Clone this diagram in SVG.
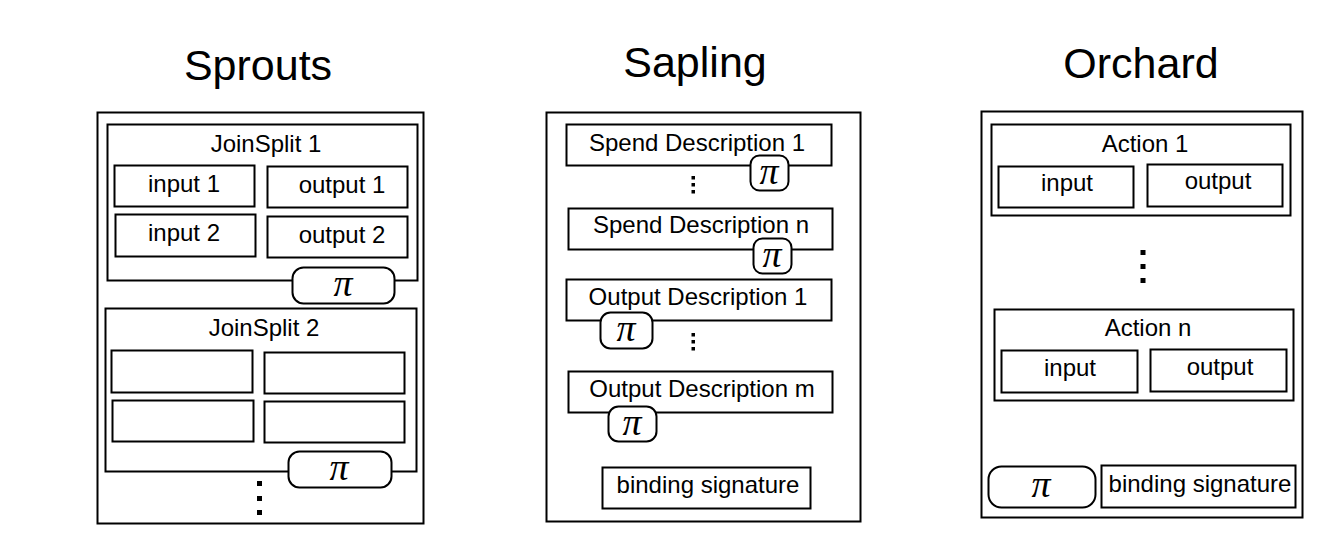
<svg xmlns="http://www.w3.org/2000/svg" width="1323" height="555" viewBox="0 0 1323 555">
<style>
.box{fill:#fff;stroke:#000;stroke-width:2}
.pi{fill:#fff;stroke:#000;stroke-width:2}
.t{font-family:"Liberation Sans",Arial,sans-serif;font-size:24px;fill:#000;text-anchor:middle}
.title{font-family:"Liberation Sans",Arial,sans-serif;font-size:43px;fill:#000;text-anchor:middle}
.p{font-family:"Liberation Serif","Times New Roman",serif;font-style:italic;font-size:38px;fill:#000;text-anchor:middle}
.dot{fill:#000}
</style>
<rect width="1323" height="555" fill="#fff"/>
<g id="connectors"></g>
<g id="sprouts">
<text class="title" x="258" y="80">Sprouts</text>
<rect class="box" x="97.5" y="112.5" width="326" height="411"/>
<g id="joinsplit1">
<rect class="box" x="107.5" y="124.5" width="310" height="156"/>
<text class="t" x="266" y="152">JoinSplit 1</text>
<rect class="box" x="114.5" y="165.5" width="140" height="41"/>
<text class="t" x="184" y="192">input 1</text>
<rect class="box" x="267.5" y="166.5" width="140" height="41"/>
<text class="t" x="342" y="193">output 1</text>
<rect class="box" x="115.5" y="214.5" width="140" height="42"/>
<text class="t" x="184" y="241">input 2</text>
<rect class="box" x="267.5" y="216.5" width="140" height="41"/>
<text class="t" x="342" y="243">output 2</text>
<rect class="pi" x="292.5" y="267.5" width="102" height="36" rx="11"/>
<text class="p" x="343" y="296">π</text>
</g>
<g id="joinsplit2">
<rect class="box" x="105.5" y="308.5" width="311" height="163"/>
<text class="t" x="264" y="336">JoinSplit 2</text>
<rect class="box" x="111.5" y="350.5" width="141" height="42"/>
<rect class="box" x="264.5" y="352.5" width="140" height="41"/>
<rect class="box" x="112.5" y="400.5" width="141" height="41"/>
<rect class="box" x="264.5" y="401.5" width="140" height="41"/>
<rect class="pi" x="288.5" y="451.5" width="103" height="36" rx="11"/>
<text class="p" x="339" y="480">π</text>
</g>
<rect class="dot" x="257" y="481" width="5" height="5"/>
<rect class="dot" x="257" y="496" width="5" height="5"/>
<rect class="dot" x="257" y="510" width="5" height="5"/>
</g>
<g id="sapling">
<text class="title" x="695" y="77">Sapling</text>
<rect class="box" x="546.5" y="112.5" width="314" height="409"/>
<g id="spend1">
<rect class="box" x="566.5" y="124.5" width="265" height="41"/>
<text class="t" x="697" y="151">Spend Description 1</text>
<rect class="pi" x="750.5" y="155.5" width="38" height="35" rx="9"/>
<text class="p" x="769" y="184">π</text>
</g>
<rect class="dot" x="691.5" y="176" width="3.5" height="3.5"/>
<rect class="dot" x="691.5" y="183" width="3.5" height="3.5"/>
<rect class="dot" x="691.5" y="190" width="3.5" height="3.5"/>
<g id="spendn">
<rect class="box" x="568.5" y="208.5" width="264" height="41"/>
<text class="t" x="701" y="233">Spend Description n</text>
<rect class="pi" x="753.5" y="238.5" width="38" height="35" rx="9"/>
<text class="p" x="772" y="267">π</text>
</g>
<g id="output1">
<rect class="box" x="566.5" y="279.5" width="265" height="41"/>
<text class="t" x="698" y="305">Output Description 1</text>
<rect class="pi" x="600.5" y="312.5" width="52" height="36" rx="10"/>
<text class="p" x="626" y="341">π</text>
</g>
<rect class="dot" x="691.5" y="333" width="3.5" height="3.5"/>
<rect class="dot" x="691.5" y="340" width="3.5" height="3.5"/>
<rect class="dot" x="691.5" y="347" width="3.5" height="3.5"/>
<g id="outputm">
<rect class="box" x="568.5" y="371.5" width="264" height="41"/>
<text class="t" x="702" y="397">Output Description m</text>
<rect class="pi" x="608.5" y="406.5" width="48" height="35" rx="10"/>
<text class="p" x="632" y="435">π</text>
</g>
<g id="sapling-binding">
<rect class="box" x="602.5" y="467.5" width="208" height="41"/>
<text class="t" x="708" y="493">binding signature</text>
</g>
</g>
<g id="orchard">
<text class="title" x="1141" y="78">Orchard</text>
<rect class="box" x="981.5" y="111.5" width="321" height="406"/>
<g id="action1">
<rect class="box" x="991.5" y="124.5" width="299" height="91"/>
<text class="t" x="1145" y="152">Action 1</text>
<rect class="box" x="998.5" y="166.5" width="135" height="41"/>
<text class="t" x="1067" y="191">input</text>
<rect class="box" x="1147.5" y="164.5" width="135" height="42"/>
<text class="t" x="1218" y="189">output</text>
</g>
<rect class="dot" x="1140.5" y="250" width="5" height="5"/>
<rect class="dot" x="1140.5" y="264" width="5" height="5"/>
<rect class="dot" x="1140.5" y="278" width="5" height="5"/>
<g id="actionn">
<rect class="box" x="994.5" y="309.5" width="299" height="91"/>
<text class="t" x="1148" y="336">Action n</text>
<rect class="box" x="1001.5" y="350.5" width="136" height="42"/>
<text class="t" x="1070" y="376">input</text>
<rect class="box" x="1150.5" y="349.5" width="136" height="42"/>
<text class="t" x="1220" y="375">output</text>
</g>
<g id="orchard-pi">
<rect class="pi" x="988.5" y="466.5" width="107" height="41" rx="13"/>
<text class="p" x="1041" y="497">π</text>
</g>
<g id="orchard-binding">
<rect class="box" x="1101.5" y="465.5" width="194" height="42"/>
<text class="t" x="1200" y="492">binding signature</text>
</g>
</g>
</svg>
